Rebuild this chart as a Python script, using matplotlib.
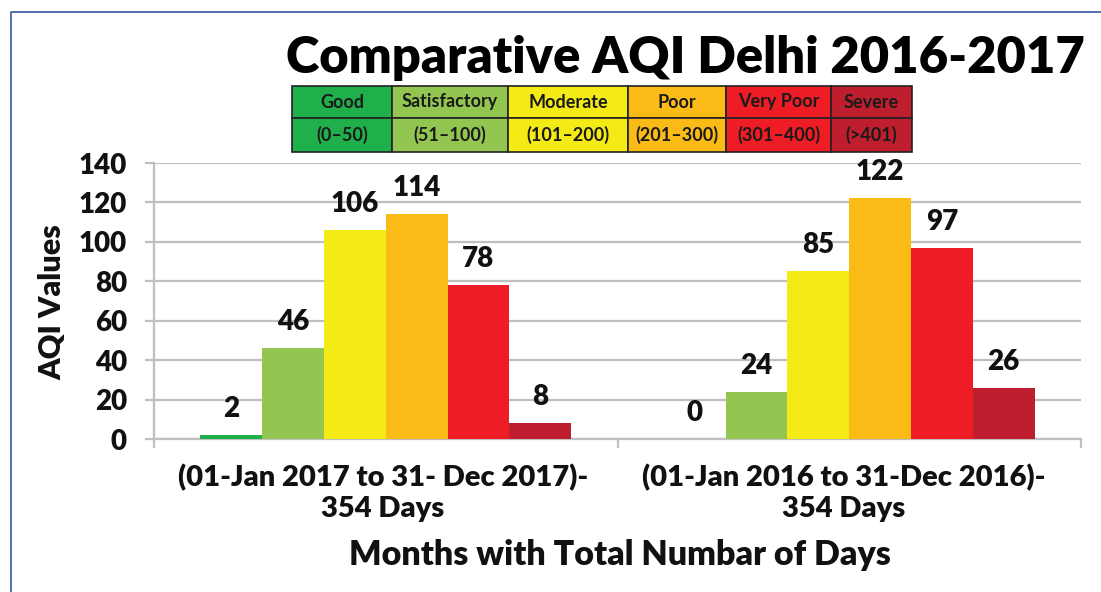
import matplotlib
matplotlib.use('Agg')
import matplotlib.pyplot as plt
from matplotlib import font_manager as fm
from matplotlib.patches import Rectangle
from matplotlib.lines import Line2D
import numpy as np

# ---- data ----
categories = ['(01-Jan 2017 to 31- Dec 2017)-\n354 Days',
              '(01-Jan 2016 to 31-Dec 2016)-\n354 Days']
aqi_classes = ['Good', 'Satisfactory', 'Moderate', 'Poor', 'Very Poor', 'Severe']
aqi_ranges = ['(0–50)', '(51–100)', '(101–200)', '(201–300)', '(301–400)', '(>401)']
values_2017 = [2, 46, 106, 114, 78, 8]
values_2016 = [0, 24, 85, 122, 97, 26]
yticks = [0, 20, 40, 60, 80, 100, 120, 140]
title = 'Comparative AQI Delhi 2016-2017'
ylabel = 'AQI Values'
xlabel = 'Months with Total Numbar of Days'

colors = ['#1FAF4B', '#92C650', '#F4EA16', '#FBBB16', '#EE1D25', '#BE1E2D']

names = {f.name for f in fm.fontManager.ttflist}
MAIN = 'Lato' if 'Lato' in names else 'DejaVu Sans'
NARROW = 'Liberation Sans Narrow' if 'Liberation Sans Narrow' in names else MAIN
HEAVY = 'heavy'
TXT = '#111111'

W, H = 1101, 592
fig = plt.figure(figsize=(W / 100, H / 100), dpi=100)

def fx(px):
    return px / W

def fy(py):
    return 1 - py / H

# blue frame
fig.add_artist(Line2D([fx(11), fx(11), fx(1101)], [fy(592), fy(12), fy(12)],
                      color='#4563AE', lw=1.3, transform=fig.transFigure))

ax = fig.add_axes([fx(154), fy(439), fx(1081) - fx(154), fy(163) - fy(439)])
x = np.arange(len(categories))
n = len(aqi_classes)
w = 0.8 / n
for i in range(n):
    vals = [values_2017[i], values_2016[i]]
    bars = ax.bar(x + (i - (n - 1) / 2) * w, vals, w, color=colors[i], zorder=3)
    for b, v in zip(bars, vals):
        ax.annotate(str(v), (b.get_x() + b.get_width() / 2, v), xytext=(0, 13),
                    textcoords='offset points', ha='center', va='baseline',
                    fontsize=20, fontweight=HEAVY, family=MAIN, color=TXT, zorder=4)

ax.set_xlim(-0.5, 1.5)
ax.set_ylim(0, 140)
ax.set_yticks(yticks)
ax.yaxis.grid(True, color='#BFBFBF', lw=1.6, zorder=0)
for s in ['top', 'right']:
    ax.spines[s].set_visible(False)
for s in ['left', 'bottom']:
    ax.spines[s].set_color('#BFBFBF')
    ax.spines[s].set_linewidth(1.6)
ax.tick_params(axis='y', length=6.5, width=1.6, color='#BFBFBF', pad=13,
               labelsize=20, labelcolor=TXT)
for t in ax.get_yticklabels():
    t.set_fontweight(HEAVY); t.set_family(MAIN)
ax.set_xticks(x + np.array([-0.006, -0.012]))
ax.set_xticklabels(categories, fontsize=21, fontweight=HEAVY, family=MAIN,
                   color=TXT, linespacing=1.2)
ax.tick_params(axis='x', which='major', length=0, pad=18)
ax.set_xticks([-0.5, 0.5, 1.5], minor=True)
ax.tick_params(axis='x', which='minor', length=6.5, width=1.6, color='#BFBFBF')

fig.text(fx(52), fy(302), ylabel, rotation=90, ha='center', va='center',
         fontsize=22, fontweight=HEAVY, family=MAIN, color=TXT)
fig.text(fx(620), fy(565), xlabel, ha='center', va='baseline',
         fontsize=24.5, fontweight=HEAVY, family=MAIN, color=TXT)
fig.text(fx(685), fy(73), title, ha='center', va='baseline',
         fontsize=36.5, fontweight=HEAVY, family=MAIN, color='black')

# legend table
edges = [292, 392, 508, 628, 726, 831, 912]
rows = [86, 118, 152]
for i in range(n):
    for r, txt in enumerate([aqi_classes[i], aqi_ranges[i]]):
        fig.add_artist(Rectangle((fx(edges[i]), fy(rows[r + 1])),
                                 fx(edges[i + 1]) - fx(edges[i]),
                                 fy(rows[r]) - fy(rows[r + 1]),
                                 facecolor=colors[i], edgecolor='#222222', lw=1.2,
                                 transform=fig.transFigure))
        fig.text(fx((edges[i] + edges[i + 1]) / 2), fy((rows[r] + rows[r + 1]) / 2),
                 txt, ha='center', va='center', fontsize=13, family=NARROW,
                 fontweight='bold', color='#1a1a1a')

fig.savefig('out.png', dpi=100)
